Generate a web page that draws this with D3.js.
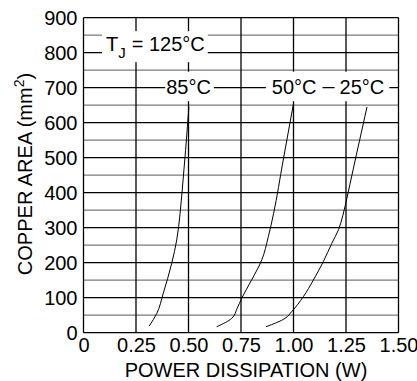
<!DOCTYPE html>
<html>
<head>
<meta charset="utf-8">
<script src="https://cdn.jsdelivr.net/npm/d3@7"></script>
<style>
  body { margin: 0; background: #fff; }
  svg { display: block; }
  text { font-family: "Liberation Sans", Arial, Helvetica, sans-serif; fill: #000; }
</style>
</head>
<body>
<div id="chart"></div>
<script>
// Tick values
const powerTicks = [0, 0.25, 0.5, 0.75, 1.0, 1.25, 1.5];
const areaTicks = [0, 100, 200, 300, 400, 500, 600, 700, 800, 900];
const areaMinor = [50, 150, 250, 350, 450, 550, 650, 750, 850];

// Curves: power (W) vs copper area (mm2)
const power85 = [0.313, 0.349, 0.38, 0.42, 0.444, 0.46, 0.469, 0.486, 0.502];
const area85 = [19, 55, 113, 198, 265, 341, 400, 520, 645];

const power50 = [0.634, 0.706, 0.732, 0.753, 0.80, 0.849, 0.88, 0.905, 0.95, 1.0];
const area50 = [17, 41, 70, 98, 150, 208, 274, 340, 490, 655];

const power25 = [0.869, 0.96, 0.991, 1.047, 1.094, 1.142, 1.182, 1.215, 1.235, 1.26, 1.30, 1.35];
const area25 = [17, 41, 60, 103, 150, 203, 255, 295, 335, 400, 510, 645];

const W = 417, H = 381;

const svg = d3.select("#chart").append("svg")
    .attr("width", W)
    .attr("height", H);

const x = d3.scaleLinear().domain([0, 1.5]).range([83.5, 398.5]);
const y = d3.scaleLinear().domain([0, 900]).range([332.7, 17.7]);

const grid = svg.append("g");

// minor (grey) horizontal lines
grid.selectAll(".minor").data(areaMinor).enter().append("line")
    .attr("x1", x(0)).attr("x2", x(1.5))
    .attr("y1", d => y(d)).attr("y2", d => y(d))
    .attr("stroke", "#7a7a7a")
    .attr("stroke-width", 1.3);

// major horizontal lines
grid.selectAll(".major").data(areaTicks).enter().append("line")
    .attr("x1", x(0)).attr("x2", x(1.5))
    .attr("y1", d => y(d)).attr("y2", d => y(d))
    .attr("stroke", "#000")
    .attr("stroke-width", 1.3);

// vertical lines
grid.selectAll(".vert").data(powerTicks).enter().append("line")
    .attr("x1", d => x(d)).attr("x2", d => x(d))
    .attr("y1", y(0)).attr("y2", y(900))
    .attr("stroke", "#000")
    .attr("stroke-width", 1.3);

// curves
const line = d3.line()
    .x(d => x(d[0]))
    .y(d => y(d[1]))
    .curve(d3.curveMonotoneY);

[[power85, area85], [power50, area50], [power25, area25]].forEach(([p, a]) => {
    svg.append("path")
        .datum(d3.zip(p, a))
        .attr("d", line)
        .attr("fill", "none")
        .attr("stroke", "#000")
        .attr("stroke-width", 1);
});

// axes
const xAxis = svg.append("g")
    .attr("transform", `translate(0,${y(0)})`)
    .call(d3.axisBottom(x)
        .tickValues(powerTicks)
        .tickSize(0)
        .tickPadding(5)
        .tickFormat(d => d === 0 ? "0" : d.toFixed(2)));
xAxis.select(".domain").remove();
xAxis.attr("font-size", 20).attr("font-family", null);

const yAxis = svg.append("g")
    .attr("transform", `translate(${x(0)},0)`)
    .call(d3.axisLeft(y)
        .tickValues(areaTicks)
        .tickSize(0)
        .tickPadding(6));
yAxis.select(".domain").remove();
yAxis.attr("font-size", 20).attr("font-family", null);
yAxis.selectAll("text").attr("dy", "0.33em");

// axis titles
svg.append("text")
    .attr("x", 246)
    .attr("y", 376.7)
    .attr("text-anchor", "middle")
    .attr("font-size", 20)
    .text("POWER DISSIPATION (W)");

const yTitle = svg.append("text")
    .attr("transform", "translate(32,174) rotate(-90)")
    .attr("text-anchor", "middle")
    .attr("font-size", 20);
yTitle.append("tspan").text("COPPER AREA (mm");
yTitle.append("tspan").attr("font-size", 14).attr("dy", -8).text("2");
yTitle.append("tspan").attr("dy", 8).text(")");

// labels with white boxes cut into the grid
function boxedLabel(build, pad) {
    const g = svg.append("g");
    const rect = g.append("rect").attr("fill", "#fff");
    const t = g.append("text").attr("font-size", 20);
    build(t);
    const b = t.node().getBBox();
    rect.attr("x", b.x - pad[0])
        .attr("y", b.y - pad[2])
        .attr("width", b.width + pad[0] + pad[1])
        .attr("height", b.height + pad[2] + pad[3]);
}

boxedLabel(t => {
    t.attr("x", 106).attr("y", y(800) - 1.5);
    t.append("tspan").text("T");
    t.append("tspan").attr("font-size", 15).attr("dy", 7).text("J");
    t.append("tspan").attr("dy", -7).attr("dx", 6).text("= 125°C");
}, [4, 3, 2, 1]);

boxedLabel(t => {
    t.attr("x", x(0.5)).attr("y", y(700) + 6).attr("text-anchor", "middle").text("85°C");
}, [1, 3, 4, 3.5]);

boxedLabel(t => {
    t.attr("x", x(1.0) + 0.7).attr("y", y(700) + 6).attr("text-anchor", "middle").text("50°C");
}, [6, 6, 4, 3.5]);

boxedLabel(t => {
    t.attr("x", x(1.326)).attr("y", y(700) + 6).attr("text-anchor", "middle").text("25°C");
}, [5, 5, 4, 3.5]);
</script>
</body>
</html>
